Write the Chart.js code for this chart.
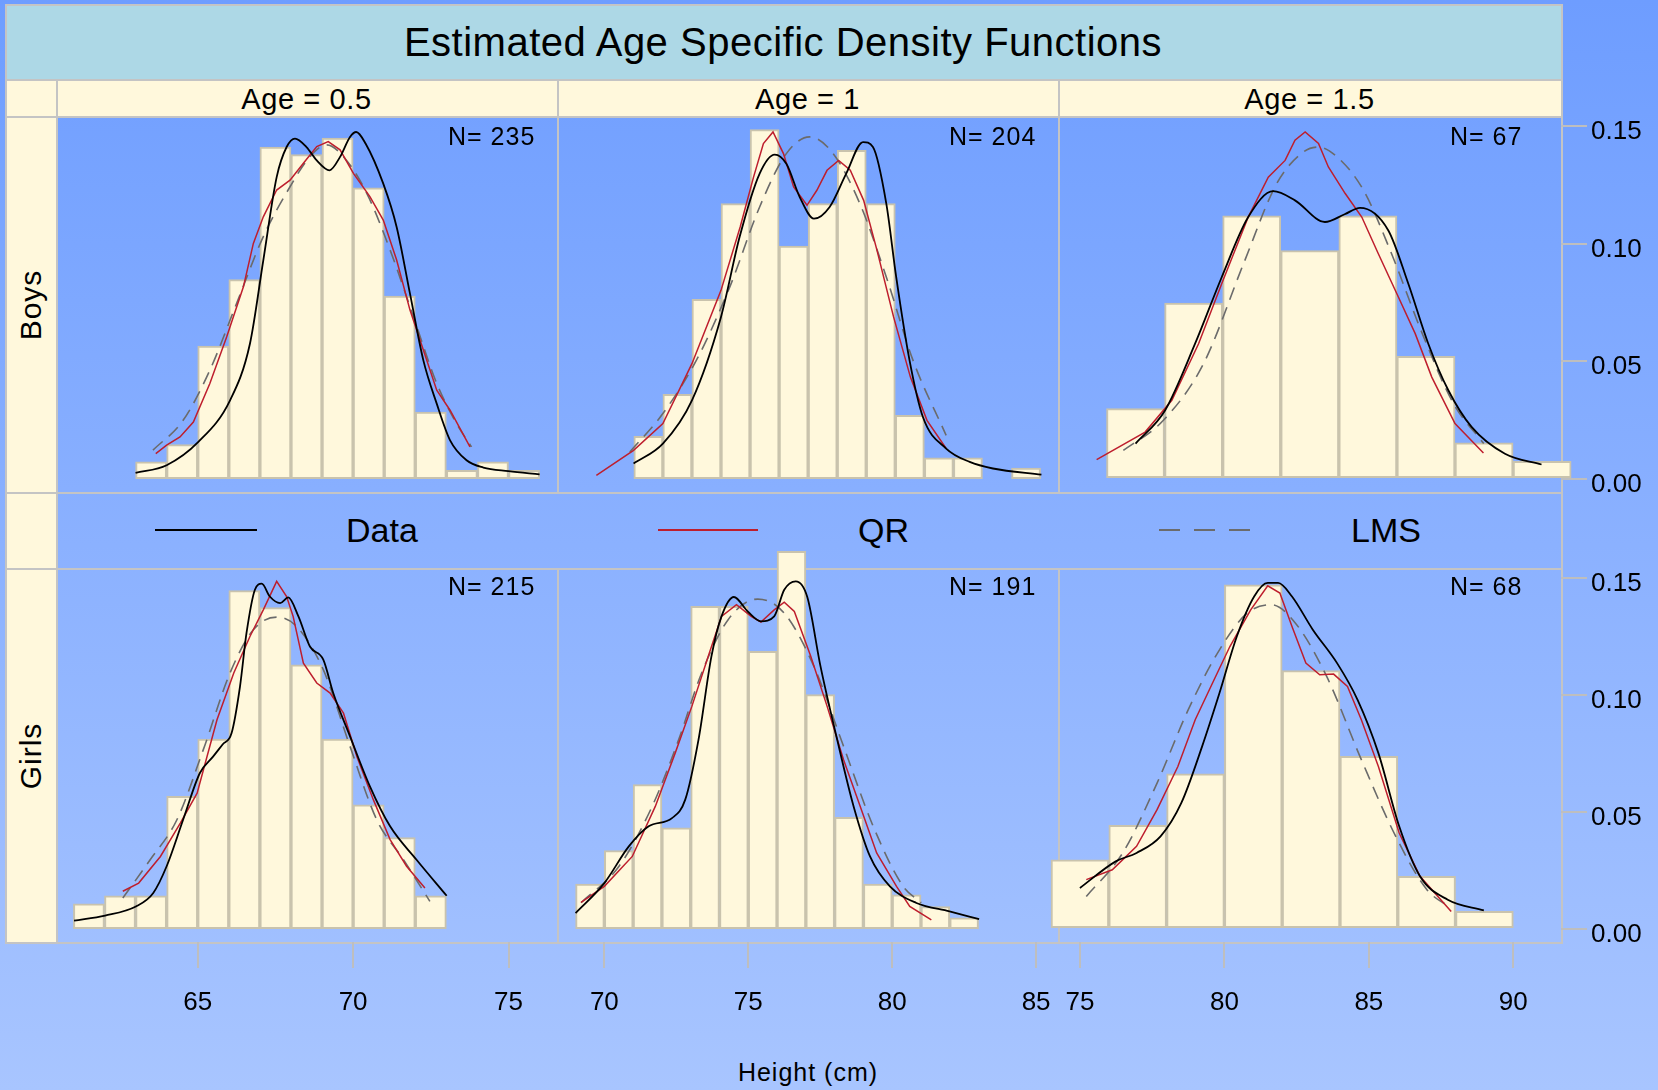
<!DOCTYPE html>
<html>
<head>
<meta charset="utf-8">
<title>Estimated Age Specific Density Functions</title>
<script src="https://cdn.jsdelivr.net/npm/chart.js@4.4.1/dist/chart.umd.min.js"></script>
<style>
  html, body { margin: 0; padding: 0; }
  body {
    position: relative; width: 1658px; height: 1090px; overflow: hidden;
    background: linear-gradient(to bottom, #6e9dff 0%, #a8c5ff 100%);
    font-family: "Liberation Sans", Arial, sans-serif; color: #000;
  }
  .box { position: absolute; box-sizing: border-box; border: 2px solid #c4c4c4; }
  .txt { position: absolute; white-space: nowrap; line-height: 1; }
  canvas { position: absolute; }
</style>
</head>
<body>
<script>
// labels and ticks
var ages = ['Age = 0.5', 'Age = 1', 'Age = 1.5'];
var sexes = ['Boys', 'Girls'];
var sampleSizes = [[235, 204, 67], [215, 191, 68]];
var xTicks = [[65, 70, 75], [70, 75, 80, 85], [75, 80, 85, 90]];
var yTicks = [0, 0.05, 0.10, 0.15];
var legendNames = ['Data', 'QR', 'LMS'];

// boys, age 0.5
var boys05Breaks = [63, 64, 65, 66, 67, 68, 69, 70, 71, 72, 73, 74, 75, 76];
var boys05Hist = [0.0071, 0.0145, 0.0564, 0.0847, 0.1411, 0.1379, 0.1449, 0.1237, 0.0777, 0.0283, 0.0035, 0.0071, 0.0035];
var boys05Kde = [[63.0,0.0024],[64.0,0.0057],[65.02,0.0156],[66.04,0.0333],[66.68,0.0574],[67.11,0.0929],[67.54,0.1283],[67.86,0.1411],[68.13,0.1447],[68.5,0.1411],[68.83,0.1354],[69.24,0.1312],[69.58,0.1369],[69.9,0.1454],[70.1,0.1475],[70.4,0.1426],[70.97,0.1255],[71.4,0.1071],[71.83,0.0787],[72.26,0.0503],[72.69,0.0319],[73.12,0.0163],[73.65,0.0078],[74.19,0.0047],[75.0,0.0032],[76.0,0.0018]];
var boys05Qr = [[63.65,0.0106],[64.0,0.0142],[64.43,0.0177],[64.86,0.0241],[65.39,0.0405],[65.93,0.0603],[66.47,0.0816],[66.79,0.1001],[67.11,0.1114],[67.54,0.1228],[67.97,0.127],[68.4,0.1342],[68.83,0.1413],[69.2,0.1434],[69.58,0.1399],[70.01,0.1299],[70.54,0.120],[70.97,0.110],[71.4,0.093],[71.83,0.0717],[72.26,0.0547],[72.69,0.0376],[73.12,0.0291],[73.76,0.0135]];
var boys05Lms = [[63.56,0.0121],[64.53,0.0248],[65.39,0.0461],[66.25,0.0745],[67.11,0.103],[67.97,0.1242],[68.61,0.137],[69.15,0.142],[69.69,0.137],[70.44,0.1214],[71.19,0.0973],[71.94,0.0689],[72.69,0.0405],[73.33,0.0234],[73.81,0.0135]];

// boys, age 1
var boys1Breaks = [71, 72, 73, 74, 75, 76, 77, 78, 79, 80, 81, 82, 83, 84, 85];
var boys1Hist = [0.018, 0.0359, 0.0763, 0.117, 0.1485, 0.099, 0.117, 0.1397, 0.117, 0.0269, 0.0088, 0.0088, 0, 0.0045];
var boys1Kde = [[70.99,0.0064],[72.0,0.0149],[73.0,0.0333],[74.0,0.0688],[74.64,0.1028],[75.33,0.1298],[75.85,0.1379],[76.25,0.134],[76.71,0.1198],[77.2,0.1106],[77.74,0.1156],[78.31,0.1298],[78.89,0.1432],[79.23,0.1411],[79.69,0.117],[80.03,0.0858],[80.49,0.0503],[80.95,0.0262],[81.75,0.0128],[82.56,0.0071],[83.36,0.0043],[85.03,0.0017]];
var boys1Qr = [[69.71,0.0014],[70.99,0.012],[72.0,0.0234],[73.0,0.0489],[74.0,0.0801],[74.66,0.1071],[75.12,0.1283],[75.46,0.1426],[75.79,0.1475],[76.15,0.1383],[76.5,0.1241],[76.96,0.1163],[77.3,0.1227],[77.65,0.1312],[78.05,0.1354],[78.45,0.1312],[78.91,0.1184],[79.37,0.0971],[79.94,0.0688],[80.52,0.0432],[81.09,0.0248],[81.75,0.0128]];
var boys1Lms = [[70.86,0.0113],[72.0,0.0277],[73.15,0.0503],[74.3,0.0815],[75.33,0.1156],[76.25,0.1383],[77.05,0.1454],[77.86,0.1383],[78.78,0.117],[79.69,0.0858],[80.61,0.0503],[81.75,0.0184]];

// boys, age 1.5
var boys15Breaks = [76, 78, 80, 82, 84, 86, 88, 90, 92];
var boys15Hist = [0.0298, 0.0747, 0.1118, 0.097, 0.1118, 0.052, 0.0152, 0.0074];
var boys15Kde = [[77.0,0.0149],[78.02,0.0291],[79.05,0.0574],[79.97,0.0858],[80.88,0.1113],[81.74,0.1223],[82.49,0.1184],[83.52,0.1092],[84.2,0.1125],[84.73,0.1152],[85.7,0.1057],[86.39,0.083],[87.08,0.0574],[87.77,0.0376],[88.57,0.022],[89.72,0.0106],[90.98,0.006]];
var boys15Qr = [[75.66,0.0081],[77.33,0.0198],[78.25,0.0333],[79.17,0.0574],[79.97,0.083],[80.88,0.1113],[81.57,0.1283],[82.15,0.1354],[82.49,0.144],[82.84,0.1475],[83.3,0.1426],[83.64,0.1326],[84.22,0.1213],[84.79,0.1113],[85.36,0.0957],[86.05,0.0773],[86.63,0.0617],[87.2,0.0432],[88.0,0.0234],[88.98,0.0109]];
var boys15Lms = [[76.58,0.012],[77.96,0.0248],[79.34,0.0489],[80.72,0.0915],[81.86,0.1255],[82.78,0.139],[83.29,0.1411],[83.93,0.137],[84.85,0.1227],[85.77,0.0971],[86.92,0.0603],[87.95,0.0319],[88.99,0.0149]];

// girls, age 0.5
var girls05Breaks = [61, 62, 63, 64, 65, 66, 67, 68, 69, 70, 71, 72, 73];
var girls05Hist = [0.0106, 0.0141, 0.0141, 0.0566, 0.0811, 0.1446, 0.1374, 0.1129, 0.0811, 0.053, 0.039, 0.0141];
var girls05Kde = [[61.02,0.0034],[62.02,0.0056],[63.01,0.0095],[63.57,0.0153],[64.0,0.0267],[64.53,0.0466],[65.07,0.0666],[65.5,0.0737],[65.8,0.0788],[66.09,0.0837],[66.36,0.1036],[66.57,0.1265],[66.84,0.145],[67.06,0.1476],[67.32,0.1421],[67.65,0.1393],[67.91,0.1417],[68.24,0.1336],[68.61,0.1207],[69.04,0.1151],[69.36,0.1008],[69.9,0.0823],[70.54,0.0609],[71.19,0.0438],[72.04,0.0295],[73.01,0.0141]];
var girls05Qr = [[62.59,0.016],[63.1,0.0195],[63.8,0.0309],[64.44,0.0452],[64.98,0.058],[65.62,0.0894],[66.16,0.1094],[66.68,0.125],[67.11,0.1364],[67.54,0.1486],[67.86,0.1421],[68.07,0.1336],[68.4,0.1136],[68.83,0.1051],[69.26,0.1008],[69.69,0.0922],[70.12,0.0737],[70.65,0.0552],[71.19,0.0381],[71.72,0.0267],[72.31,0.0174]];
var girls05Lms = [[62.59,0.0131],[63.47,0.0295],[64.33,0.0466],[65.18,0.0766],[66.04,0.1094],[66.79,0.1279],[67.54,0.1333],[68.18,0.1293],[69.04,0.1108],[69.9,0.078],[70.76,0.0466],[71.62,0.0295],[72.47,0.0117]];

// girls, age 1
var girls1Breaks = [69, 70, 71, 72, 73, 74, 75, 76, 77, 78, 79, 80, 81, 82, 83];
var girls1Hist = [0.0191, 0.0334, 0.0616, 0.0431, 0.1379, 0.1379, 0.1186, 0.1614, 0.1001, 0.0476, 0.0191, 0.0145, 0.0095, 0.0046];
var girls1Kde = [[69.0,0.0067],[70.0,0.0195],[70.85,0.0352],[71.54,0.0438],[72.35,0.0473],[72.81,0.0552],[73.27,0.0808],[73.72,0.1165],[74.07,0.1336],[74.5,0.1419],[74.98,0.1357],[75.44,0.1315],[75.9,0.1336],[76.25,0.145],[76.65,0.1486],[77.05,0.1419],[77.51,0.1122],[78.09,0.0808],[78.66,0.0523],[79.23,0.0309],[79.92,0.0181],[80.84,0.011],[81.99,0.0074],[83.02,0.0041]];
var girls1Qr = [[69.19,0.0113],[70.0,0.0181],[70.97,0.0309],[71.77,0.0523],[72.46,0.0751],[73.04,0.0951],[73.61,0.1165],[74.07,0.1336],[74.59,0.1386],[75.1,0.1336],[75.44,0.1312],[75.9,0.1364],[76.25,0.1397],[76.6,0.1357],[77.17,0.1165],[77.74,0.0951],[78.31,0.0723],[78.89,0.0523],[79.46,0.0324],[80.15,0.0181],[80.61,0.0095],[81.36,0.0038]];
var girls1Lms = [[69.19,0.0111],[70.51,0.0267],[71.66,0.0523],[72.58,0.0808],[73.38,0.1094],[74.3,0.1322],[75.33,0.141],[76.25,0.135],[77.28,0.1122],[78.31,0.078],[79.34,0.0438],[80.38,0.0181],[81.01,0.0111]];

// girls, age 1.5
var girls15Breaks = [74, 76, 78, 80, 82, 84, 86, 88, 90];
var girls15Hist = [0.0295, 0.0442, 0.0662, 0.1471, 0.1104, 0.0737, 0.0224, 0.0074];
var girls15Kde = [[75.0,0.0174],[76.24,0.0288],[76.96,0.0324],[77.79,0.0395],[78.51,0.0538],[79.23,0.078],[79.83,0.1008],[80.43,0.125],[81.03,0.1421],[81.5,0.1479],[81.86,0.1479],[82.34,0.1421],[83.06,0.1279],[83.9,0.1136],[84.61,0.0979],[85.33,0.0751],[86.05,0.0438],[86.77,0.0224],[87.73,0.0124],[88.98,0.0078]];
var girls15Qr = [[75.22,0.021],[76.12,0.0252],[76.96,0.0352],[77.67,0.0509],[78.39,0.0694],[78.99,0.0894],[79.59,0.1051],[80.19,0.1207],[80.91,0.1364],[81.5,0.1467],[81.92,0.1436],[82.34,0.1293],[82.82,0.1136],[83.3,0.1086],[83.78,0.1089],[84.26,0.1036],[84.74,0.0894],[85.33,0.0694],[86.05,0.0409],[86.77,0.0224],[87.85,0.0074]];
var girls15Lms = [[75.22,0.0138],[76.48,0.0324],[77.67,0.0623],[78.75,0.0937],[79.83,0.1193],[80.79,0.135],[81.62,0.1386],[82.46,0.1307],[83.54,0.1079],[84.74,0.0723],[85.93,0.0395],[87.01,0.0167],[87.85,0.0088]];

var panels = [
  [
    {breaks: boys05Breaks, hist: boys05Hist, kde: boys05Kde, qr: boys05Qr, lms: boys05Lms},
    {breaks: boys1Breaks, hist: boys1Hist, kde: boys1Kde, qr: boys1Qr, lms: boys1Lms},
    {breaks: boys15Breaks, hist: boys15Hist, kde: boys15Kde, qr: boys15Qr, lms: boys15Lms}
  ],
  [
    {breaks: girls05Breaks, hist: girls05Hist, kde: girls05Kde, qr: girls05Qr, lms: girls05Lms},
    {breaks: girls1Breaks, hist: girls1Hist, kde: girls1Kde, qr: girls1Qr, lms: girls1Lms},
    {breaks: girls15Breaks, hist: girls15Hist, kde: girls15Kde, qr: girls15Qr, lms: girls15Lms}
  ]
];

// layout (page pixels) and axis limits
var colX = [56, 557, 1058, 1561];
var rowY = [[116, 492], [568, 942]];
var xLimits = [[60.44, 76.56], [68.355, 85.60], [74.33, 91.65]];
var yLimits = [-0.0057, 0.1543];
var xAxisHeight = 148, yAxisWidth = 97;
var fontFamily = '"Liberation Sans", Arial, sans-serif';
var frameGrey = '#bebebe';
var lineColors = ['#000000', '#be1e2d', '#6b6b6b'];

function addBox(x, y, w, h, bg) {
  var d = document.createElement('div');
  d.className = 'box';
  d.style.left = x + 'px';
  d.style.top = y + 'px';
  d.style.width = w + 'px';
  d.style.height = h + 'px';
  if (bg) d.style.background = bg;
  document.body.appendChild(d);
  return d;
}

function addText(str, x, y, size, opts) {
  opts = opts || {};
  var d = document.createElement('div');
  d.className = 'txt';
  d.textContent = str;
  d.style.left = x + 'px';
  d.style.top = y + 'px';
  d.style.fontSize = size + 'px';
  if (opts.spacing) d.style.letterSpacing = opts.spacing + 'px';
  var tx = opts.align === 'left' ? '0' : '-50%';
  d.style.transform = 'translate(' + tx + ', -50%)' + (opts.rotate ? ' rotate(-90deg)' : '');
  document.body.appendChild(d);
}

function histBars(breaks, dens) {
  return dens.map(function(d, i) {
    return {x: (breaks[i] + breaks[i + 1]) / 2, y: d};
  });
}

function pts(arr) {
  return arr.map(function(p) { return {x: p[0], y: p[1]}; });
}

// strips, title, frames
addBox(5, 4, 1558, 77, '#add8e6');
addText('Estimated Age Specific Density Functions', 783, 42, 40, {spacing: 0.5});
addBox(5, 79, 53, 39, '#fff8dc');
for (var c = 0; c < 3; c++) {
  addBox(colX[c], 79, colX[c + 1] - colX[c] + 2, 39, '#fff8dc');
  addText(ages[c], (colX[c] + colX[c + 1]) / 2, 99, 29, {spacing: 0.6});
}
addBox(5, 116, 53, 378, '#fff8dc');
addBox(5, 492, 53, 78, '#fff8dc');
addBox(5, 568, 53, 376, '#fff8dc');
addText(sexes[0], 31, 305, 30, {spacing: 1, rotate: true});
addText(sexes[1], 31, 756, 30, {spacing: 1, rotate: true});
addBox(56, 492, 1507, 78);
for (var r = 0; r < 2; r++) {
  for (var c2 = 0; c2 < 3; c2++) {
    addBox(colX[c2], rowY[r][0], colX[c2 + 1] - colX[c2] + 2, rowY[r][1] - rowY[r][0] + 2);
  }
}

// legend row
var legendKeys = [
  {x: 155, w: 102, bg: lineColors[0], tx: 346},
  {x: 658, w: 100, bg: lineColors[1], tx: 858},
  {x: 1159, w: 91, bg: 'repeating-linear-gradient(to right, ' + lineColors[2] + ' 0 21px, transparent 21px 35px)', tx: 1351}
];
legendKeys.forEach(function(k, i) {
  var d = document.createElement('div');
  d.style.position = 'absolute';
  d.style.left = k.x + 'px';
  d.style.top = '529px';
  d.style.width = k.w + 'px';
  d.style.height = '2px';
  d.style.background = k.bg;
  document.body.appendChild(d);
  addText(legendNames[i], k.tx, 530, 34, {align: 'left'});
});

addText('Height (cm)', 808, 1072, 25, {spacing: 1});

// one chart per panel
function buildPanel(r, c) {
  var p = panels[r][c];
  var showX = r === 1, showY = c === 2;
  var x0 = colX[c], x1 = colX[c + 1], y0 = rowY[r][0], y1 = rowY[r][1];
  var pad = {left: 12, top: 40, right: showY ? 0 : 12, bottom: showX ? 0 : 40};
  var w = (x1 - x0) + pad.left + (showY ? yAxisWidth : pad.right);
  var h = (y1 - y0) + pad.top + (showX ? xAxisHeight : pad.bottom);

  var cv = document.createElement('canvas');
  cv.width = w;
  cv.height = h;
  cv.style.left = (x0 - pad.left) + 'px';
  cv.style.top = (y0 - pad.top) + 'px';
  cv.style.width = w + 'px';
  cv.style.height = h + 'px';
  document.body.appendChild(cv);

  var tickFont = {family: fontFamily, size: 26};

  new Chart(cv.getContext('2d'), {
    type: 'bar',
    data: {
      datasets: [
        {type: 'line', label: legendNames[0], data: pts(p.kde), borderColor: lineColors[0], borderWidth: 1.8,
         pointRadius: 0, cubicInterpolationMode: 'monotone', order: 1},
        {type: 'line', label: legendNames[1], data: pts(p.qr), borderColor: lineColors[1], borderWidth: 1.5,
         pointRadius: 0, tension: 0, order: 2},
        {type: 'line', label: legendNames[2], data: pts(p.lms), borderColor: lineColors[2], borderWidth: 1.6,
         borderDash: [13, 8], pointRadius: 0, cubicInterpolationMode: 'monotone', order: 3},
        {type: 'bar', label: 'Histogram', data: histBars(p.breaks, p.hist), backgroundColor: '#fff8dc',
         borderColor: '#c9c3ad', borderWidth: 2, borderSkipped: false, barPercentage: 1,
         categoryPercentage: 1, grouped: false, clip: false, order: 4}
      ]
    },
    options: {
      responsive: false,
      animation: false,
      devicePixelRatio: 1,
      layout: {padding: pad, autoPadding: false},
      plugins: {legend: {display: false}, tooltip: {enabled: false}},
      scales: {
        x: {
          type: 'linear', position: 'bottom', display: showX,
          min: xLimits[c][0], max: xLimits[c][1], offset: false,
          grid: {offset: false, drawOnChartArea: false, drawTicks: true, tickLength: 26, color: frameGrey, lineWidth: 2},
          border: {display: false},
          ticks: {font: tickFont, color: '#000', padding: 19, maxRotation: 0, autoSkip: false},
          afterBuildTicks: function(s) { s.ticks = xTicks[c].map(function(v) { return {value: v}; }); },
          afterFit: function(s) { if (showX) s.height = xAxisHeight; }
        },
        y: {
          type: 'linear', position: 'right', display: showY,
          min: yLimits[0], max: yLimits[1],
          grid: {drawOnChartArea: false, drawTicks: true, tickLength: 26, color: frameGrey, lineWidth: 2},
          border: {display: false},
          ticks: {font: tickFont, color: '#000', padding: 4, labelOffset: 6, callback: function(v) { return v.toFixed(2); }},
          afterBuildTicks: function(s) { s.ticks = yTicks.map(function(v) { return {value: v}; }); },
          afterFit: function(s) { if (showY) s.width = yAxisWidth; }
        }
      }
    }
  });

  addText('N= ' + sampleSizes[r][c], x0 + 392, r === 0 ? 135.5 : 585.5, 25, {align: 'left', spacing: 1});
}

for (var rr = 0; rr < 2; rr++) {
  for (var cc = 0; cc < 3; cc++) buildPanel(rr, cc);
}
</script>
</body>
</html>
